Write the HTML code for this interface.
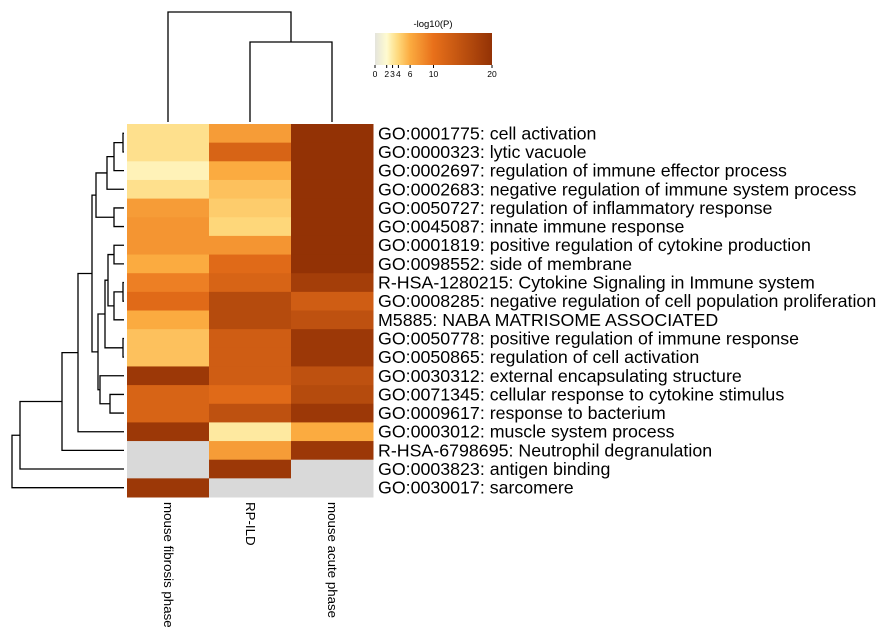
<!DOCTYPE html>
<html><head><meta charset="utf-8"><style>
body{margin:0;background:#fff;}
svg text{font-family:"Liberation Sans","DejaVu Sans",sans-serif;}
</style></head><body>
<svg id="chart" width="887" height="633" viewBox="0 0 887 633" xmlns="http://www.w3.org/2000/svg">
<defs>
<linearGradient id="cbar" x1="0" x2="1" y1="0" y2="0">
<stop offset="0" stop-color="#e4e4dc"/><stop offset="0.1" stop-color="#fffbd0"/><stop offset="0.15" stop-color="#fee9a0"/><stop offset="0.2" stop-color="#fed77a"/><stop offset="0.3" stop-color="#fbab40"/><stop offset="0.5" stop-color="#e8701a"/><stop offset="1" stop-color="#933205"/>
</linearGradient>
</defs>
<g id="cells"></g>
<g id="rowlabels"></g>
<g id="collabels"></g>
<g id="rowdend" stroke="#000" stroke-width="1.3" fill="none"></g>
<g stroke="#000" stroke-width="1.3" fill="none">
<path d="M168 122 V12 H291 V42"/>
<path d="M250 122 V42 H332 V122"/>
</g>
<g>
<text x="433" y="27" font-size="9.5" text-anchor="middle">-log10(P)</text>
<rect x="375" y="33" width="117" height="32" fill="url(#cbar)"/>
<g id="cbticks"></g>
</g>
</svg>
<script>
const rowLabels=["GO:0001775: cell activation","GO:0000323: lytic vacuole","GO:0002697: regulation of immune effector process","GO:0002683: negative regulation of immune system process","GO:0050727: regulation of inflammatory response","GO:0045087: innate immune response","GO:0001819: positive regulation of cytokine production","GO:0098552: side of membrane","R-HSA-1280215: Cytokine Signaling in Immune system","GO:0008285: negative regulation of cell population proliferation","M5885: NABA MATRISOME ASSOCIATED","GO:0050778: positive regulation of immune response","GO:0050865: regulation of cell activation","GO:0030312: external encapsulating structure","GO:0071345: cellular response to cytokine stimulus","GO:0009617: response to bacterium","GO:0003012: muscle system process","R-HSA-6798695: Neutrophil degranulation","GO:0003823: antigen binding","GO:0030017: sarcomere"];
const colLabels=["mouse fibrosis phase","RP-ILD","mouse acute phase"];
const fibrosis=[3.5,3.5,2.5,3.5,7,7.5,7.5,6,9,11,6,5,5,19,12,12,19,null,null,19];
const rpild=[7,12,6,5,4.5,4,7.5,11,12,16,16,13,13,13,11,15,3,7,19,null];
const acute=[20,20,20,20,20,20,20,20,18,13,15,19,19,15,16,19,6,19,null,null];
const cbTicks=[0,2,3,4,6,10,20];
const series=[fibrosis,rpild,acute];
const NS="http://www.w3.org/2000/svg";
const X0=127,CW=82,Y0=124,RH=18.65;
const colX=j=>X0+j*CW, rowY=i=>Y0+i*RH;
const stops=[[0,[228,228,220]],[2,[255,251,208]],[3,[254,233,160]],[4,[254,215,122]],[6,[251,171,64]],[10,[232,112,26]],[20,[147,50,5]]];
function color(v){if(v===null)return "#d9d9d9";v=Math.max(0,Math.min(20,v));
for(let k=0;k<stops.length-1;k++){const[a,ca]=stops[k],[b,cb]=stops[k+1];if(v<=b){const t=(v-a)/(b-a);return "rgb("+ca.map((c,i)=>Math.round(c+(cb[i]-c)*t)).join(",")+")";}}return "rgb(147,50,5)";}
const cells=document.getElementById("cells");
series.forEach((s,j)=>s.forEach((v,i)=>{const r=document.createElementNS(NS,"rect");
r.setAttribute("x",colX(j));r.setAttribute("y",rowY(i));r.setAttribute("width",CW+0.5);r.setAttribute("height",RH+0.5);r.setAttribute("fill",color(v));


cells.appendChild(r);}));
const rl=document.getElementById("rowlabels");
rowLabels.forEach((t,i)=>{const e=document.createElementNS(NS,"text");e.setAttribute("x",378);e.setAttribute("y",rowY(i)+RH/2+6);e.setAttribute("font-size","17.8");e.textContent=t;


rl.appendChild(e);});
const cl=document.getElementById("collabels");
colLabels.forEach((t,j)=>{const x=colX(j)+CW/2-4,y=502;const e=document.createElementNS(NS,"text");e.setAttribute("x",x);e.setAttribute("y",y);e.setAttribute("font-size","13.3");e.setAttribute("transform","rotate(90 "+x+" "+y+")");e.textContent=t;


cl.appendChild(e);});
const cbt=document.getElementById("cbticks");
cbTicks.forEach(v=>{const x=375+117*v/20;const l=document.createElementNS(NS,"line");l.setAttribute("x1",x);l.setAttribute("x2",x);l.setAttribute("y1",65);l.setAttribute("y2",68);l.setAttribute("stroke","#000");


cbt.appendChild(l);
const t=document.createElementNS(NS,"text");t.setAttribute("x",x);t.setAttribute("y",77);t.setAttribute("font-size","8.5");t.setAttribute("text-anchor","middle");t.textContent=v;


cbt.appendChild(t);});
const merges=[["0","1",123],["c0","2",114],["c1","3",107],["4","5",114],["c2","c3",96],["6","7",114],["8","9",123],["c6","10",114],["c5","c7",108],["11","12",123],["c8","c9",105],["14","15",110],["13","c11",100],["c10","c12",98],["c4","c13",92],["c14","16",78],["c15","17",62],["c16","18",20],["c17","19",12]];
const node={};for(let i=0;i<20;i++)node[String(i)]={x:124,y:rowY(i)+RH/2};
const rd=document.getElementById("rowdend");
merges.forEach((m,k)=>{const a=node[m[0]],b=node[m[1]],x=m[2];const p=document.createElementNS(NS,"path");
p.setAttribute("d","M"+a.x+" "+a.y+" H"+x+" V"+b.y+" H"+b.x);


rd.appendChild(p);node["c"+k]={x:x,y:(a.y+b.y)/2};});
</script>
</body></html>
